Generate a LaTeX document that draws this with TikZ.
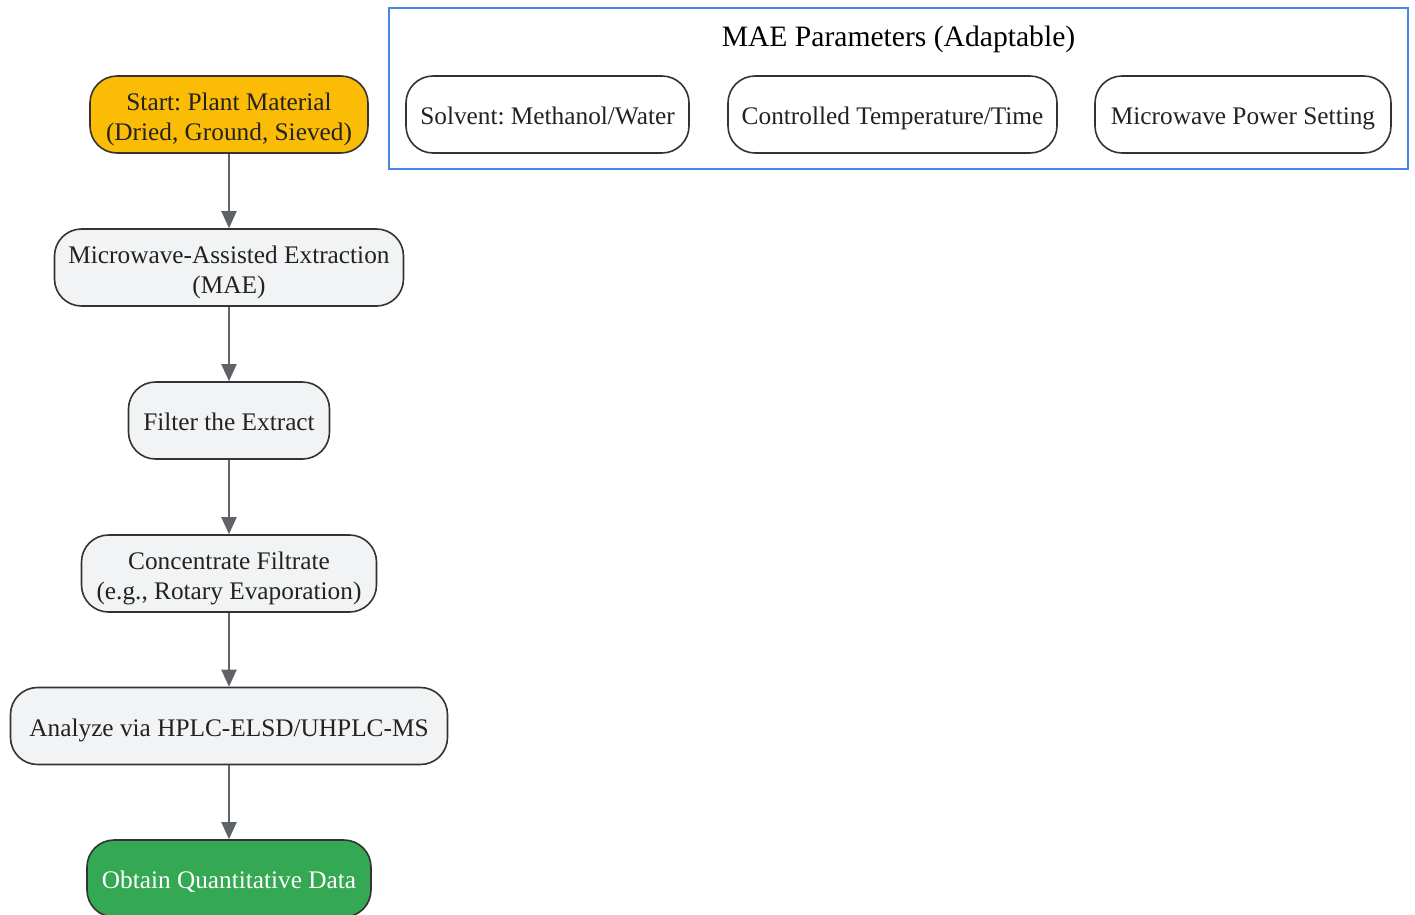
\documentclass[tikz,border=0pt]{standalone}
\usepackage{fontspec}
\setmainfont{Liberation Serif}
\usetikzlibrary{arrows.meta}
\definecolor{txt}{HTML}{222222}
\definecolor{edge}{HTML}{333333}
\definecolor{amber}{HTML}{FBBC05}
\definecolor{lgray}{HTML}{F1F3F4}
\definecolor{ggreen}{HTML}{34A853}
\definecolor{gblue}{HTML}{4A86E8}
\definecolor{arr}{HTML}{5F6368}
\tikzset{
  box/.style={draw=edge, line width=1.6pt, rounded corners=27pt, inner sep=0pt, minimum height=77pt},
  lbl/.style={align=center, text=txt, font=\fontsize{25.3}{30}\selectfont\frenchspacing, inner sep=0pt, yshift=-4pt,
    execute at begin node=\strut, execute at end node=\strut},
  lbltwo/.style={lbl, yshift=-2.5pt},
  flowarrow/.style={draw=arr, line width=2pt, -{Triangle[length=17pt,width=15pt]}},
}
\begin{document}
\begin{tikzpicture}[x=1pt,y=-1pt]
\useasboundingbox (0,0) rectangle (1415,914);
% cluster
\draw[gblue, line width=1.8pt] (389,8) rectangle (1408,169);
\node[text=black, font=\fontsize{29.6}{34}\selectfont, inner sep=0pt, yshift=-3pt] (ctitle) at (898.5,36) {MAE Parameters (Adaptable)};
\node[box, fill=white, minimum width=283pt] (solv) at (547.5,114.5) {};
\node[lbl] (solvt) at (solv.center) {Solvent: Methanol/Water};
\node[box, fill=white, minimum width=329pt] (temp) at (892.5,114.5) {};
\node[lbl] (tempt) at (temp.center) {Controlled Temperature/Time};
\node[box, fill=white, minimum width=296pt] (power) at (1243,114.5) {};
\node[lbl] (powert) at (power.center) {Microwave Power Setting};
% flow
\node[box, fill=amber, minimum width=278pt] (start) at (229,114.5) {};
\node[lbltwo] (startt) at (start.center) {Start: Plant Material\\(Dried, Ground, Sieved)};
\node[box, fill=lgray, minimum width=349pt] (mae) at (229,267.5) {};
\node[lbltwo] (maet) at (mae.center) {Microwave-Assisted Extraction\\(MAE)};
\node[box, fill=lgray, minimum width=201pt] (filt) at (229,420.5) {};
\node[lbl] (filtt) at (filt.center) {Filter the Extract};
\node[box, fill=lgray, minimum width=295pt] (conc) at (229,573.5) {};
\node[lbltwo] (conct) at (conc.center) {Concentrate Filtrate\\(e.g., Rotary Evaporation)};
\node[box, fill=lgray, minimum width=437pt] (anal) at (229,726) {};
\node[lbl] (analt) at (anal.center) {Analyze via HPLC-ELSD/UHPLC-MS};
\node[box, fill=ggreen, minimum width=284pt] (obt) at (229,878.5) {};
\node[lbl, text=white] (obtt) at (obt.center) {Obtain Quantitative Data};
\draw[flowarrow] (start) -- (mae);
\draw[flowarrow] (mae) -- (filt);
\draw[flowarrow] (filt) -- (conc);
\draw[flowarrow] (conc) -- (anal);
\draw[flowarrow] (anal) -- (obt);
\end{tikzpicture}
\end{document}
